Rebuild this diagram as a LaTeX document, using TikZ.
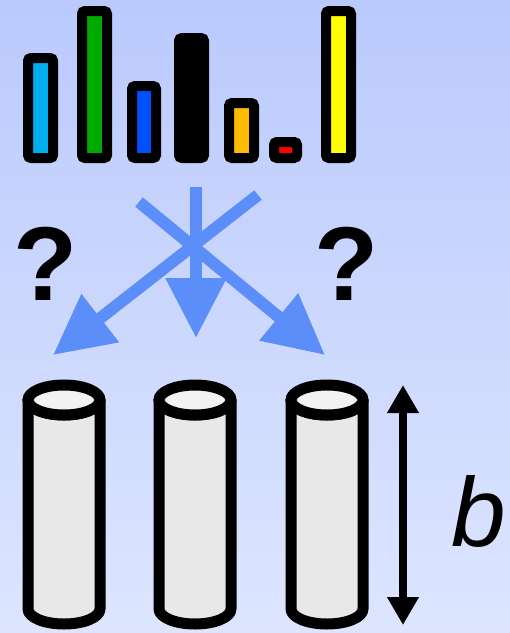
\documentclass[tikz,border=0pt]{standalone}
\usepackage{fontspec}
\setmainfont{Liberation Sans}
\usetikzlibrary{arrows.meta}

\definecolor{bgtop}{RGB}{186,202,253}
\definecolor{bgbot}{RGB}{221,229,254}
\definecolor{flowblue}{RGB}{92,142,250}
\definecolor{barcyan}{RGB}{0,174,239}
\definecolor{bargreen}{RGB}{0,170,0}
\definecolor{barblue}{RGB}{0,80,255}
\definecolor{barorange}{RGB}{255,187,0}
\definecolor{barred}{RGB}{255,0,0}
\definecolor{baryellow}{RGB}{255,255,0}
\definecolor{cylside}{RGB}{232,232,232}
\definecolor{cyltop}{RGB}{242,242,242}

\tikzset{
  bar/.style={draw=black, line width=10pt, rounded corners=3pt},
  flow/.style={draw=flowblue, line width=12pt, -{Triangle[length=60pt,width=58pt]}},
  cylbody/.style={draw=black, fill=cylside, line width=11pt, line join=round},
  cyllid/.style={draw=black, fill=cyltop, line width=11pt},
  extent/.style={draw=black, line width=8pt, {Triangle[length=28pt,width=30pt]}-{Triangle[length=28pt,width=30pt]}},
  qmark/.style={font=\fontsize{105}{110}\selectfont\bfseries, anchor=base, inner sep=0pt},
  sizelabel/.style={font=\fontsize{98}{100}\selectfont\itshape, anchor=base, inner sep=0pt}
}

% one upright cylinder centred at x=#1
\newcommand{\tubecyl}[1]{%
  \filldraw[cylbody] (#1-36,400) -- (#1-36,609)
    arc[start angle=180, end angle=0, x radius=36, y radius=15]
    -- (#1+36,400)
    arc[start angle=0, end angle=180, x radius=36, y radius=15] -- cycle;
  \filldraw[cyllid] (#1,400) ellipse [x radius=36, y radius=15];
}

\begin{document}
\begin{tikzpicture}[x=1pt, y=-1pt]
  % background
  \shade[top color=bgtop, bottom color=bgbot] (0,0) rectangle (510,633);
  \useasboundingbox (0,0) rectangle (510,633);

  % histogram of values
  \draw[bar, fill=barcyan]   (28,58)  rectangle (53,158);
  \draw[bar, fill=bargreen]  (82,11)  rectangle (107,158);
  \draw[bar, fill=barblue]   (132,86) rectangle (156,158);
  \draw[bar, fill=black]     (179,38) rectangle (204,158);
  \draw[bar, fill=barorange] (229,103) rectangle (254,158);
  \draw[bar, fill=barred]    (274,142) rectangle (297,158);
  \draw[bar, fill=baryellow] (326,11) rectangle (351,158);

  % crossing assignment arrows
  \coordinate (srcA) at (139,202);
  \coordinate (srcB) at (258,195);
  \coordinate (srcC) at (196,187);
  \coordinate (dstA) at (325,355);
  \coordinate (dstB) at (53,355);
  \coordinate (dstC) at (196,338);
  \draw[flow] (srcA) -- (dstA);
  \draw[flow] (srcB) -- (dstB);
  \draw[flow] (srcC) -- (dstC);

  \node[qmark] (qleft)  at (46,300)  {?};
  \node[qmark] (qright) at (347,300) {?};

  % storage cylinders
  \tubecyl{64}
  \tubecyl{195}
  \tubecyl{327}

  % height marker
  \coordinate (htop) at (403,385);
  \coordinate (hbot) at (403,625);
  \draw[extent] (htop) -- (hbot);
  \node[sizelabel] (blabel) at (479,546) {b};
\end{tikzpicture}
\end{document}
